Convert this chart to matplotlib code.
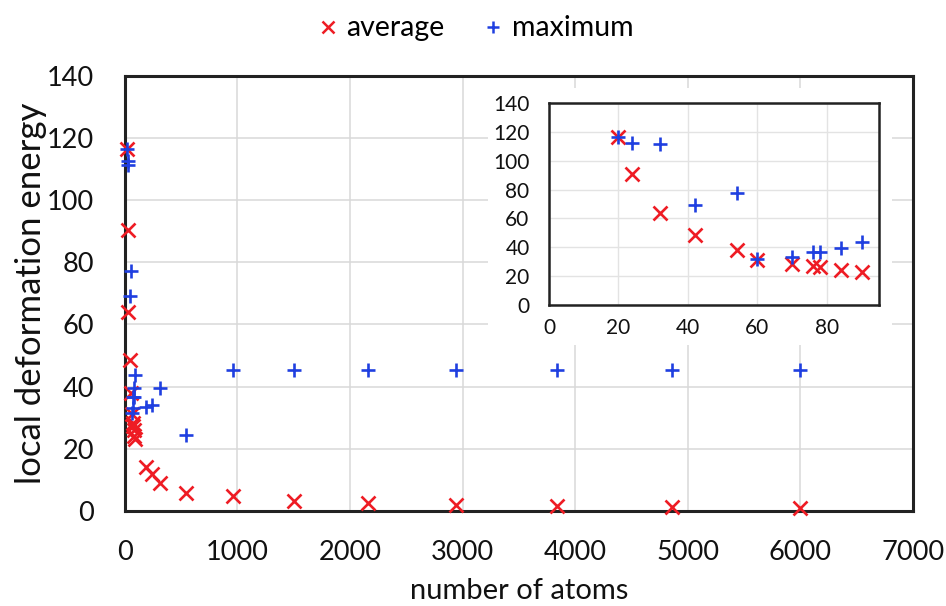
import matplotlib
matplotlib.use('Agg')
import matplotlib.pyplot as plt
from matplotlib.patches import Rectangle
from matplotlib.lines import Line2D

plt.rcParams['font.family'] = ['Lato', 'DejaVu Sans']

# small clusters (shown in both plots)
n_small = [20, 24, 32, 42, 54, 60, 70, 76, 78, 84, 90]
avg_small = [116.5, 90.5, 64.0, 48.7, 37.8, 31.1, 28.4, 27.2, 26.1, 24.2, 23.1]
max_small = [116.5, 112.6, 111.4, 69.0, 77.3, 31.6, 33.0, 36.7, 36.7, 39.4, 43.8]

# larger clusters (main plot only)
n_large = [190, 240, 310, 540, 960, 1500, 2160, 2940, 3840, 4860, 6000]
avg_large = [14.0, 12.0, 9.0, 5.8, 4.8, 3.2, 2.5, 1.9, 1.6, 1.4, 0.8]
max_large = [33.4, 34.0, 39.5, 24.3, 45.2, 45.2, 45.2, 45.2, 45.2, 45.2, 45.2]

main_xticks = [0, 1000, 2000, 3000, 4000, 5000, 6000, 7000]
main_yticks = [0, 20, 40, 60, 80, 100, 120, 140]
inset_xticks = [0, 20, 40, 60, 80]
inset_yticks = [0, 20, 40, 60, 80, 100, 120, 140]

red = '#EE1C24'
blue = '#1F3FE0'
grid_c = '#D9D9D9'
txt = '#111111'

fig = plt.figure(figsize=(9.46, 6.06), dpi=100)

ax = fig.add_axes([0.132, 0.157, 0.833, 0.718])
ax.set_xlim(0, 7000)
ax.set_ylim(0, 140)
ax.set_xticks(main_xticks)
ax.set_yticks(main_yticks)
ax.grid(True, color=grid_c, lw=1.1)
ax.set_axisbelow(True)
for s in ax.spines.values():
    s.set_linewidth(2.2)
    s.set_color('#222222')
ax.tick_params(axis='both', length=0, labelsize=19.5, colors=txt)
ax.tick_params(axis='x', pad=21)
ax.tick_params(axis='y', pad=22)

n_all = n_small + n_large
ax.plot(n_all, avg_small + avg_large, ls='none', marker='x', ms=9.5, mew=1.9,
        color=red, clip_on=False, zorder=3)
ax.plot(n_all, max_small + max_large, ls='none', marker='+', ms=10.5, mew=1.9,
        color=blue, clip_on=False, zorder=3)

ax.set_xlabel('number of atoms', fontsize=21, color=txt, labelpad=9)
ax.set_ylabel('local deformation energy', fontsize=25, color=txt, labelpad=0)

# white area behind the inset chart
W, H = 946, 606
fig.patches.append(Rectangle((488 / W, 1 - 345 / H), (892 - 488) / W, (345 - 88) / H,
                             transform=fig.transFigure, facecolor='white',
                             edgecolor='none', zorder=1))

ins = fig.add_axes([549 / W, 1 - 305 / H, 330 / W, 202 / H], zorder=2)
ins.set_xlim(0, 95)
ins.set_ylim(0, 140)
ins.set_xticks(inset_xticks)
ins.set_yticks(inset_yticks)
ins.grid(True, color='#E3E3E3', lw=1)
ins.set_axisbelow(True)
for s in ins.spines.values():
    s.set_linewidth(1.8)
    s.set_color('#222222')
ins.tick_params(axis='both', length=0, labelsize=15, colors=txt)
ins.tick_params(axis='x', pad=9)
ins.tick_params(axis='y', pad=14)
ins.plot(n_small, avg_small, ls='none', marker='x', ms=9.5, mew=1.9, color=red, zorder=3)
ins.plot(n_small, max_small, ls='none', marker='+', ms=10.5, mew=1.9, color=blue, zorder=3)

handles = [Line2D([], [], ls='none', marker='x', ms=8, mew=1.8, color=red),
           Line2D([], [], ls='none', marker='+', ms=9, mew=1.8, color=blue)]
fig.legend(handles, ['average', 'maximum'], loc='center', ncol=2,
           bbox_to_anchor=(0.502, 0.953), frameon=False, fontsize=20.5,
           handlelength=0.8, handletextpad=0.25, columnspacing=1.3)

fig.savefig('out.png', dpi=100)
